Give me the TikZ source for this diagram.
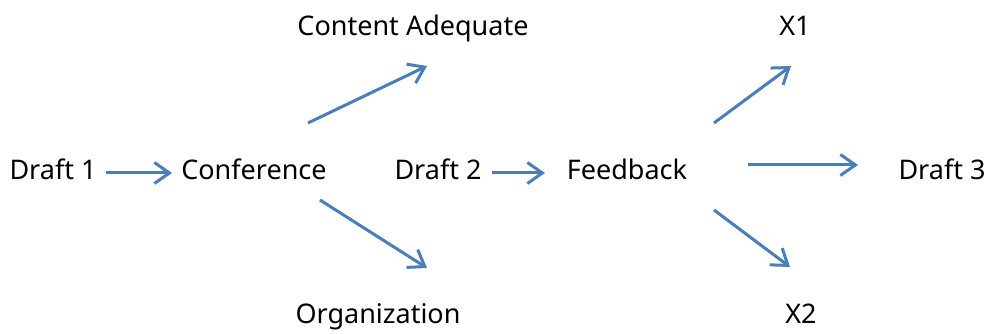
\documentclass[tikz,border=0pt]{standalone}
\usepackage{fontspec}
\setmainfont{Noto Sans}
\usetikzlibrary{arrows.meta}
\usetikzlibrary{calc}

\definecolor{arrowblue}{HTML}{4A7EBB}

\begin{document}
\begin{tikzpicture}[x = 1pt, y = -1pt,
  word/.style = {font = \fontsize{27}{32}\selectfont, inner sep = 0pt,
    anchor = base},
  link/.style = {draw = arrowblue, line width = 3pt,
    -{Straight Barb[length = 15pt, width = 21pt, line width = 3pt]}}]
  \useasboundingbox (0, 0) rectangle (989, 334);

  \node[word] (D1) at (53, 180) {Draft 1};
  \node[word] (Conf) at (254, 180) {Conference};
  \node[word] (Cont) at (413, 36) {Content Adequate};
  \node[word] (Org) at (378, 323) {Organization};
  \node[word] (D2) at (438, 180) {Draft 2};
  \node[word] (Feed) at (627, 180) {Feedback};
  \node[word] (X1) at (795, 36) {X1};
  \node[word] (X2) at (801, 323) {X2};
  \node[word] (D3) at (942, 180) {Draft 3};

  % arrow ends
  \coordinate (a1) at (106, 173);
  \coordinate (b1) at (172, 173);
  \coordinate (a2) at (308, 123);
  \coordinate (b2) at (427, 66);
  \coordinate (a3) at (320, 200);
  \coordinate (b3) at (427, 268);
  \coordinate (a4) at (492, 173);
  \coordinate (b4) at (545, 173);
  \coordinate (a5) at (714, 123);
  \coordinate (b5) at (791, 66);
  \coordinate (a6) at (748, 165);
  \coordinate (b6) at (858, 165);
  \coordinate (a7) at (714, 210);
  \coordinate (b7) at (790, 267);

  \foreach \n in {1, ..., 7}{
    \draw[link] (a\n) -- (b\n);
  }
\end{tikzpicture}
\end{document}
